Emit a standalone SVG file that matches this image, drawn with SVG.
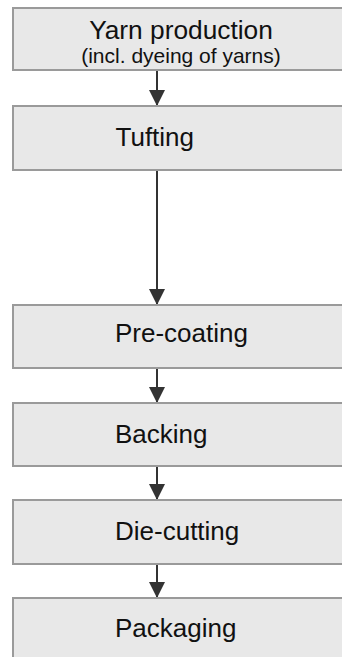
<svg xmlns="http://www.w3.org/2000/svg" width="342" height="657" viewBox="0 0 342 657">
  <style>
    .box { fill: #e8e8e8; stroke: #9a9a9a; stroke-width: 2; }
    .lbl { font-family: "Liberation Sans", Arial, sans-serif; font-size: 26px; fill: #111; }
    .title { font-size: 26.3px; text-anchor: middle; }
    .sub { font-family: "Liberation Sans", Arial, sans-serif; font-size: 21px; fill: #111; text-anchor: middle; }
    .link { stroke: #333; stroke-width: 2; fill: none; marker-end: url(#head); }
  </style>
  <defs>
    <marker id="head" viewBox="0 0 16 17" refX="16" refY="8" markerWidth="16" markerHeight="17" markerUnits="userSpaceOnUse" orient="auto">
      <path d="M0,0 L16,8 L0,16 Z" fill="#333"/>
    </marker>
  </defs>

  <g id="connectors">
    <line class="link" x1="157" y1="71" x2="157" y2="106"/>
    <line class="link" x1="157" y1="171" x2="157" y2="305"/>
    <line class="link" x1="157" y1="369" x2="157" y2="403"/>
    <line class="link" x1="157" y1="467" x2="157" y2="500"/>
    <line class="link" x1="157" y1="565" x2="157" y2="598"/>
  </g>

  <g id="yarn-production">
    <rect class="box" x="13" y="8" width="340" height="62"/>
    <text class="lbl title" x="181" y="38.5">Yarn production</text>
    <text class="sub" x="181" y="63">(incl. dyeing of yarns)</text>
  </g>

  <g id="tufting">
    <rect class="box" x="13" y="106" width="340" height="64"/>
    <text class="lbl" x="115.5" y="145.5">Tufting</text>
  </g>

  <g id="pre-coating">
    <rect class="box" x="13" y="305" width="340" height="63"/>
    <text class="lbl" x="115" y="342">Pre-coating</text>
  </g>

  <g id="backing">
    <rect class="box" x="13" y="403" width="340" height="63"/>
    <text class="lbl" x="115" y="442.5">Backing</text>
  </g>

  <g id="die-cutting">
    <rect class="box" x="13" y="500" width="340" height="64"/>
    <text class="lbl" x="115" y="540">Die-cutting</text>
  </g>

  <g id="packaging">
    <rect class="box" x="13" y="598" width="340" height="80"/>
    <text class="lbl" x="115" y="637">Packaging</text>
  </g>
</svg>
